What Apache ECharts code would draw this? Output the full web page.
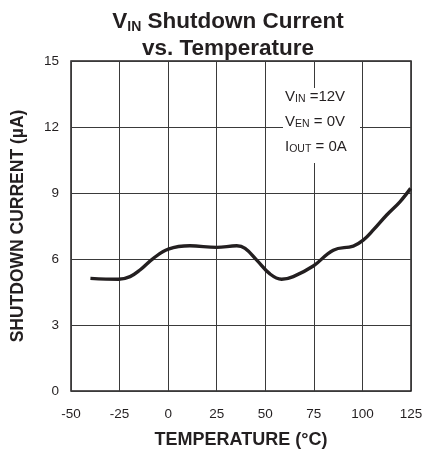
<!DOCTYPE html>
<html><head><meta charset="utf-8">
<script src="https://cdn.jsdelivr.net/npm/echarts@6/dist/echarts.min.js"></script>
<style>html,body{margin:0;padding:0;background:#fff}#c{width:424px;height:451px}</style>
</head><body><div id="c"></div>
<script>
const temperature = [-40, -25.6, -19.6, -14.5, -7.6, 0.1, 11.2, 25, 35.3, 39.6, 45.6, 52.4, 58.4, 64.4, 74.7, 85, 95.3, 100.4, 105.6, 112.5, 119.3, 124.8];
const current = [5.12, 5.08, 5.2, 5.5, 6.03, 6.45, 6.6, 6.53, 6.6, 6.48, 5.95, 5.32, 5.08, 5.2, 5.68, 6.4, 6.59, 6.86, 7.32, 8.0, 8.6, 9.21];
const xTicks = [-50, -25, 0, 25, 50, 75, 100, 125];
const yTicks = [0, 3, 6, 9, 12, 15];

const FONT = '"Liberation Sans", Arial, sans-serif';
const chart = echarts.init(document.getElementById('c'));
const ink = '#231f20';
chart.setOption({
  animation: false,
  backgroundColor: '#fff',
  title: {
    left: 228, top: 8, textAlign: 'center', padding: 0,
    text: '{b|V}{s|IN}{b| Shutdown Current}\n{b|vs. Temperature}',
    textStyle: {
      rich: {
        b: {fontFamily: FONT, fontWeight: 'bold', fontSize: 22.5, color: ink, lineHeight: 27},
        s: {fontFamily: FONT, fontWeight: 'bold', fontSize: 14, color: ink, lineHeight: 27, padding: [11, 0, 0, 0]}
      }
    }
  },
  grid: {left: 71, right: 13, top: 61, bottom: 60, show: true, borderColor: ink, borderWidth: 1.5, outerBoundsMode: 'none', containLabel: false},
  xAxis: {
    type: 'value', min: -50, max: 125, interval: 25,
    name: 'TEMPERATURE (°C)', nameLocation: 'middle', nameGap: 40,
    nameTextStyle: {fontFamily: FONT, fontWeight: 'bold', fontSize: 18, color: ink},
    axisLine: {show: false}, axisTick: {show: false},
    axisLabel: {fontFamily: FONT, fontSize: 13.5, color: ink, margin: 16,
      formatter: v => xTicks.includes(v) ? String(v) : ''},
    splitLine: {show: true, lineStyle: {color: '#3a3a3a', width: 1}}
  },
  yAxis: {
    type: 'value', min: 0, max: 15, interval: 3,
    name: 'SHUTDOWN CURRENT (µA)', nameLocation: 'middle', nameGap: 44,
    nameTextStyle: {fontFamily: FONT, fontWeight: 'bold', fontSize: 17.5, color: ink},
    axisLine: {show: false}, axisTick: {show: false},
    axisLabel: {fontFamily: FONT, fontSize: 13.5, color: ink, margin: 12,
      formatter: v => yTicks.includes(v) ? String(v) : ''},
    splitLine: {show: true, lineStyle: {color: '#3a3a3a', width: 1}}
  },
  graphic: [
    {type: 'rect', left: 283, top: 88, shape: {width: 77, height: 75}, style: {fill: '#fff'}, z: 10},
    {type: 'text', left: 285, top: 88, z: 11, style: {
      text: '{n|V}{s|IN}{n| =12V}\n{n|V}{s|EN}{n| = 0V}\n{n|I}{s|OUT}{n| = 0A}',
      rich: {
        n: {fontFamily: FONT, fontSize: 15, fill: ink, lineHeight: 25},
        s: {fontFamily: FONT, fontSize: 10.5, fill: ink, lineHeight: 25, padding: [6, 0, 0, 0]}
      }
    }}
  ],
  series: [{
    type: 'line', data: temperature.map((t, i) => [t, current[i]]),
    smooth: 0.4, showSymbol: false,
    lineStyle: {color: ink, width: 3.4}, z: 5
  }]
});
</script></body></html>
